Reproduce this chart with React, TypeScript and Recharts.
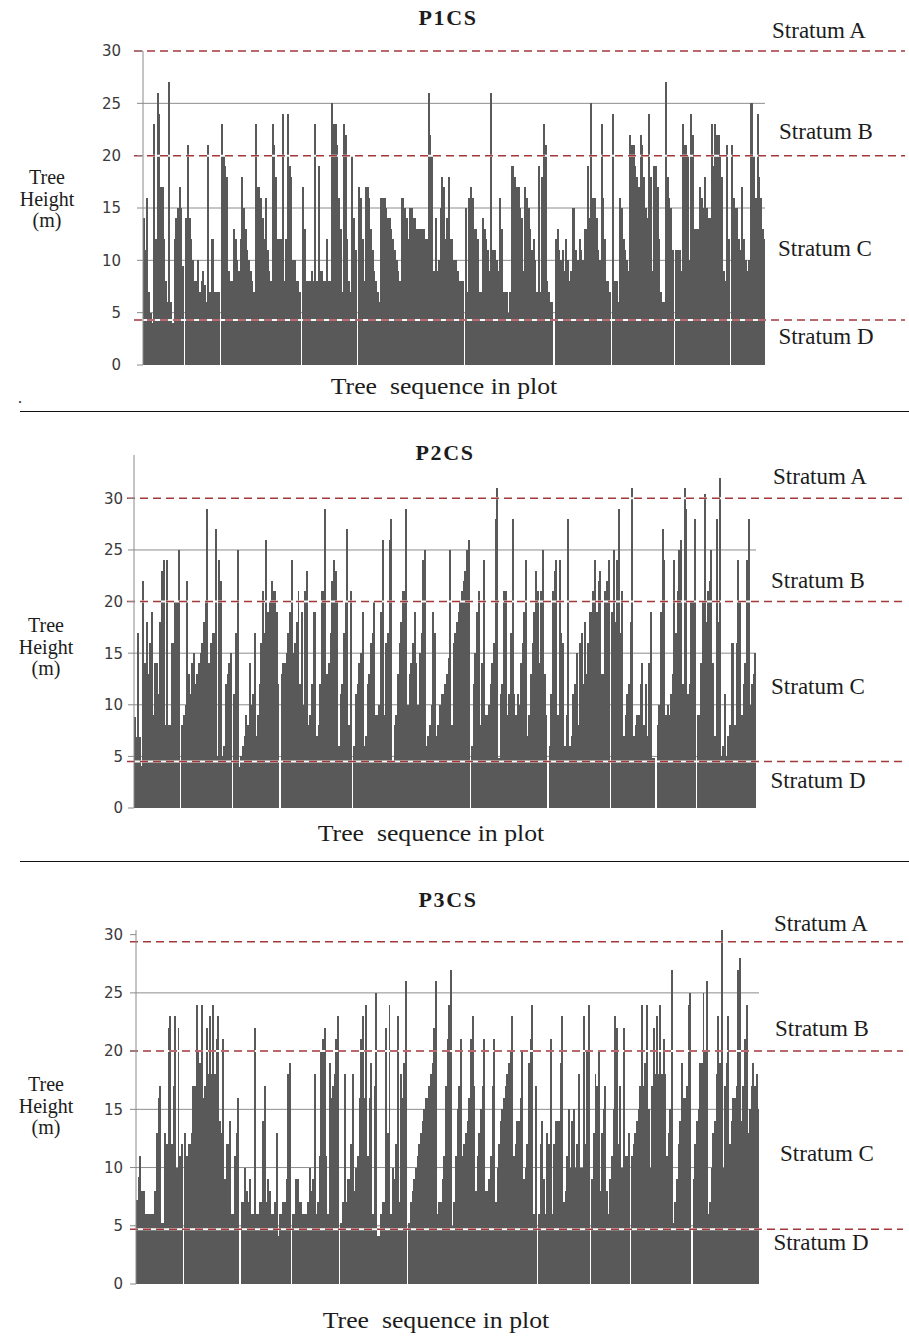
import React from 'react';
import { BarChart, Bar, XAxis, YAxis, ReferenceLine, CartesianGrid } from 'recharts';

// ---------- data ----------
const P1_HEIGHTS = [
  14, 11, 16, 7, 5, 4, 23, 12, 26, 24, 17, 17, 12, 8, 6, 27, 6, 4, 12, 14, 15, 17, 15, 9.5, 0, 14, 21, 14, 12, 10,
  8, 8, 10, 7, 8, 9, 7.6, 6, 21, 7, 12, 12, 7, 7, 7, 0, 23, 20, 19, 18, 9, 8, 8, 13, 12, 10, 9, 12, 18, 15,
  13, 11, 10, 9, 8, 7, 23, 17, 17, 16, 14, 12, 16, 11, 9, 8, 23, 21, 18, 12, 12, 12, 24, 8, 12, 24, 19, 18, 10, 10, 8,
  8, 7, 0, 17, 13, 8, 8, 8, 9, 8, 23, 8, 19, 9, 9, 8, 8, 12, 8, 8, 25, 23, 23, 21, 16, 13, 7, 23, 22, 12,
  8, 7, 20, 14, 11, 0, 17, 16, 12, 8, 17, 17, 16, 13, 11, 9, 8, 7, 6, 16, 16, 16, 15, 14, 14, 13, 12, 11, 10, 9,
  8, 16, 16, 15, 14, 12, 15, 15, 14, 14, 13, 13, 13, 13, 13, 12, 12, 26, 22, 20, 9, 14, 9, 10, 15, 18, 17, 12,
  14, 18, 12, 12, 10, 10, 9, 8, 8, 8, 0, 15, 7, 16, 17, 16, 13, 13, 12, 7, 7, 14, 13, 12, 11, 9, 26, 11, 11, 10,
  9, 16, 13, 7, 7, 7, 5, 7, 19, 19, 18, 17, 17, 15, 14, 9, 17, 16, 15, 13, 11, 12, 10, 7, 19, 7, 18, 23, 21, 8,
  7, 6, 6, 0, 12, 13, 11, 10, 11, 9, 12, 10, 8, 9, 15, 15, 11, 10, 12, 11, 10, 13, 13, 19, 14, 25, 16, 16, 14, 11, 10, 23,
  16, 12, 8, 8, 7, 0, 24, 8, 8, 6, 16, 15, 12, 11, 10, 9, 22, 21, 21, 19, 18, 17, 22, 21, 18, 15, 14, 24, 18, 9,
  19, 19, 17, 12, 7, 6, 6, 27, 18, 16, 15, 11, 0, 11, 11, 11, 9, 23, 21, 21, 20, 10, 24, 22, 13, 13, 13, 17, 16, 15,
  18, 15, 14, 14, 23, 19, 23, 22, 22, 20, 18, 9, 8, 21, 12, 0, 21, 16, 15, 15, 12, 11, 17, 12, 10, 9, 10, 25, 25, 20,
  16, 24, 18, 16, 13, 12,
];

const P2_HEIGHTS = [
  8.8, 6.9, 17, 6.9, 4.1, 22, 14, 18, 13, 16, 19, 9, 14, 14, 11, 18, 23, 24, 8, 24, 8, 8, 16, 16, 20, 20, 25, 0, 8, 9,
  10, 22, 13, 11, 14, 15, 12, 13, 14, 15, 16, 18, 20, 29, 14, 16, 17, 17, 27, 5, 24, 22, 5, 6, 12, 13, 14, 15, 0, 11,
  17, 25, 4, 5, 6, 7, 9, 8, 14, 10, 11, 17, 7, 9, 12, 16, 21, 17, 26, 19, 20, 22, 21, 21, 19, 12, 0, 13, 14, 14,
  15, 17, 19, 24, 15, 16, 18, 21, 12, 19, 10, 21, 23, 8, 9, 12, 19, 19, 7, 8, 12, 21, 21, 29, 13, 14, 17, 22, 24, 23,
  20, 6, 11, 12,
  17, 20, 27, 8, 21, 0, 6, 11, 12, 14, 15, 19, 6, 7, 12, 13, 16, 17, 20, 9, 9, 10, 19, 26, 9, 16, 17, 26, 28, 4.6,
  8, 9, 13, 16, 18, 21, 21, 29, 10, 13, 14, 16, 19, 14, 10, 15, 17, 24, 25, 6, 7, 8, 10, 19, 17, 7, 8, 10, 11, 11,
  12, 13, 14.5, 25, 8, 16, 17, 18, 19, 20, 21, 22, 23, 25, 26, 0, 6, 12, 15, 19, 21, 8, 14, 24, 9, 9, 10, 12, 14, 16,
  28, 31, 4.8, 11, 12, 21, 21, 9, 11, 17, 28, 11, 9, 11, 10, 14, 16, 19, 24, 7, 9, 13, 16, 19, 23, 21, 14, 21, 25, 13,
  9, 0, 6, 11,
  21, 23, 24, 9, 24, 17, 16, 6, 9, 28, 6, 7, 11, 12, 15, 8, 16, 17, 12, 18, 13, 16, 19, 19, 21, 24, 19, 22, 23, 13,
  13, 21, 22, 24, 0, 19, 25, 18, 24, 29, 17, 21, 7, 9, 11, 12, 18, 31, 7, 8, 9, 9, 12, 14, 8, 12, 7, 14, 19, 4.8,
  4.8, 0, 8, 10, 19, 27, 24, 9, 10, 9, 11, 13, 24, 17, 21, 25, 26, 12, 31, 29, 11, 12, 20, 20, 28, 0, 9, 9, 14, 20,
  30.4, 18, 21, 22, 25, 14, 7, 28, 18, 32, 5, 6, 11, 5, 7, 8, 16, 16, 8, 16, 24, 20, 9, 12, 14, 24, 28, 10, 12, 13, 15,
];

const P3_HEIGHTS = [
  7.2, 9.2, 11, 8, 8, 6, 6, 6, 6, 6, 6, 8, 13, 16, 17, 5.2, 5.2, 13, 12, 22, 23, 12, 17, 23, 10, 22, 11, 12, 0, 13,
  11, 12, 12, 13, 17, 17, 24, 20, 19, 24, 16, 17, 22, 18, 23, 18, 24, 18, 21, 23, 14, 13, 21, 9, 12, 12, 14, 6, 6, 11,
  13, 16, 0, 7, 7, 10, 8, 7, 9, 6, 6, 22, 6, 6, 7, 7, 14, 17, 7, 9, 8, 6, 6, 7, 13, 4.1, 6, 6, 7, 7,
  9, 18, 19, 0, 6, 6, 9, 9, 7, 7, 6, 6, 6, 7, 10, 8, 9, 18, 6, 7, 11, 20, 21, 22, 11, 6, 19, 16, 17, 18,
  21, 23, 0, 5.2, 7,
  18, 7, 9, 9, 12, 18, 8, 10, 11, 16, 21, 23, 16, 24, 11, 16, 19, 6, 17, 25, 4.1, 4.1, 6, 7, 7, 22, 13, 24, 6, 10,
  9, 12, 23, 7, 18, 16, 19, 26, 0, 5.2, 7, 8, 9, 10, 11, 12, 13, 14, 15, 16, 16, 17, 18, 19, 22, 26, 6, 7, 7, 9,
  11, 17, 21, 24, 27, 5, 7, 11, 15, 17, 21, 11, 12, 13, 14, 16, 21, 23, 17, 8, 11, 13, 15, 17, 21, 8, 8, 9, 11, 17,
  21, 7, 10, 12, 14, 15, 16, 17, 18, 19, 20, 23, 11, 12, 14, 14, 16, 20, 9, 10, 12, 19, 21, 24, 6, 17, 0, 6, 12, 14,
  9, 6, 13, 12, 21, 6, 12,
  14, 14, 14, 19, 23, 7, 8, 11, 15, 10, 14, 15, 10, 12, 18, 10, 10, 23, 12, 20, 24, 0, 9, 13, 18, 17, 20, 8, 13, 15,
  17, 8, 6, 9, 11, 15, 23, 22, 12, 17, 10, 22, 11, 11, 13, 0, 11, 12, 13, 14, 15, 17, 24, 17, 19, 24, 15, 10, 17, 22,
  18, 23, 18, 24, 18, 21, 18, 11, 13, 15, 27, 5.2, 7, 9, 12, 14, 19, 16, 16, 17, 24, 25, 0, 9, 12, 14, 15, 19, 19, 25,
  20, 26, 6, 7, 10, 13, 14, 18, 23, 19, 30.4, 10, 17, 19, 23, 12, 14, 16, 16, 17, 27, 28, 14, 17, 21, 24, 13, 15, 17, 19,
  17, 18, 15,
];

const Y_TICKS = [0, 5, 10, 15, 20, 25, 30];
const GRID_LEVELS = [5, 10, 15, 20, 25];
const P1_STRATA = [30, 20, 4.3];
const P2_STRATA = [30, 20, 4.5];
const P3_STRATA = [29.4, 20, 4.7];
const STRATUM_LABELS = ['Stratum A', 'Stratum B', 'Stratum C', 'Stratum D'];
const TITLES = ['P1CS', 'P2CS', 'P3CS'];
const X_LABEL = 'Tree  sequence in plot';
const Y_LABEL_LINES = ['Tree', 'Height', '(m)'];

// ---------- styles / layout ----------
const BAR_COLOR = '#595959';
const GRID_COLOR = '#8c8c8c';
const RED = '#a3393b';
const SERIF = '"Liberation Serif", "Times New Roman", serif';
const YW = 60;

type Cfg = {
  top: number; height: number; plotTop: number; plotBottom: number; plotLeft: number; plotRight: number;
  yMax: number; tickMargin: number; redLeft: number; redRight: number;
  title: [number, number]; yLabel: [number, number]; xLabel: [number, number]; strata: [number, number][];
};

const PANELS: Cfg[] = [
  {
    top: 0, height: 380, plotTop: 51, plotBottom: 365, plotLeft: 143, plotRight: 765, yMax: 30, tickMargin: 16,
    redLeft: 9, redRight: 905, title: [448, 18], yLabel: [47, 199], xLabel: [444, 386],
    strata: [[819, 30], [826, 131], [825, 248], [826, 336]],
  },
  {
    top: 440, height: 380, plotTop: 455, plotBottom: 808, plotLeft: 134, plotRight: 756, yMax: 34.2, tickMargin: 5,
    redLeft: 7, redRight: 905, title: [445, 453], yLabel: [46, 647], xLabel: [431, 833],
    strata: [[820, 476], [818, 580], [818, 686], [818, 780]],
  },
  {
    top: 915, height: 385, plotTop: 930, plotBottom: 1284, plotLeft: 136, plotRight: 759, yMax: 30.4, tickMargin: 7,
    redLeft: 6, redRight: 903, title: [448, 900], yLabel: [46, 1106], xLabel: [436, 1320],
    strata: [[821, 923], [822, 1028], [827, 1153], [821, 1242]],
  },
];

function Txt(props: {
  x: number; y: number; children: React.ReactNode; size: number; bold?: boolean; scaleX?: number;
  family?: string; color?: string; spacing?: number;
}) {
  const { x, y, children, size, bold, scaleX = 1, family = SERIF, color = '#1c1c1c', spacing = 0 } = props;
  return (
    <div
      style={{
        position: 'absolute', left: x, top: y,
        transform: `translate(-50%, -50%) scaleX(${scaleX})`,
        fontFamily: family, fontSize: size, fontWeight: bold ? 700 : 400, whiteSpace: 'pre',
        lineHeight: 1, color, letterSpacing: spacing,
      }}
    >
      {children}
    </div>
  );
}

function Panel({ cfg, heights, strata, title }: { cfg: Cfg; heights: number[]; strata: number[]; title: string }) {
  const data = heights.map((v, i) => ({ i: i + 1, v }));
  const band = (cfg.plotRight - cfg.plotLeft) / data.length;
  const barShape = (p: any) =>
    p.height > 0 ? (
      <rect x={p.x} y={p.y} width={band + 0.3} height={p.height} fill={BAR_COLOR} shapeRendering="crispEdges" />
    ) : (
      <g />
    );
  const redShape = (p: any) => (
    <g>
      <line x1={p.x1} x2={p.x2} y1={p.y1} y2={p.y2} stroke="#ffffff" strokeWidth={2} />
      <line
        x1={p.x1 - cfg.redLeft} x2={cfg.redRight} y1={p.y1} y2={p.y2}
        stroke={RED} strokeWidth={1.5} strokeDasharray="8 5"
      />
    </g>
  );
  return (
    <>
      <div style={{ position: 'absolute', left: 0, top: cfg.top }}>
        <BarChart
          width={909}
          height={cfg.height}
          data={data}
          barCategoryGap={0}
          barGap={0}
          margin={{
            top: cfg.plotTop - cfg.top,
            bottom: cfg.top + cfg.height - cfg.plotBottom,
            left: cfg.plotLeft - YW,
            right: 909 - cfg.plotRight,
          }}
        >
          <XAxis dataKey="i" hide />
          <YAxis
            width={YW}
            domain={[0, cfg.yMax]}
            ticks={Y_TICKS}
            interval={0}
            allowDataOverflow
            axisLine={{ stroke: '#8a8a8a', strokeWidth: 1 }}
            tickLine={{ stroke: '#8a8a8a', strokeWidth: 1 }}
            tickSize={6}
            tickMargin={cfg.tickMargin}
            tick={{ fontSize: 15, fill: '#3a3a3a', fontFamily: '"DejaVu Sans", sans-serif' }}
          />
          <CartesianGrid vertical={false} stroke={GRID_COLOR} strokeWidth={1} horizontalValues={GRID_LEVELS} />
          <Bar dataKey="v" isAnimationActive={false} shape={barShape} />
          {strata.map((s) => (
            <ReferenceLine key={'s' + s} y={s} ifOverflow="visible" shape={redShape} />
          ))}
        </BarChart>
      </div>
      <Txt x={cfg.title[0]} y={cfg.title[1]} size={20} bold spacing={1.5} scaleX={1.1}>
        {title}
      </Txt>
      <div
        style={{
          position: 'absolute', left: cfg.yLabel[0], top: cfg.yLabel[1], transform: 'translate(-50%, -50%)',
          textAlign: 'center', fontFamily: SERIF, fontSize: 20, lineHeight: '21.5px', color: '#1c1c1c',
          whiteSpace: 'nowrap',
        }}
      >
        {Y_LABEL_LINES.map((l) => (
          <div key={l}>{l}</div>
        ))}
      </div>
      <Txt x={cfg.xLabel[0]} y={cfg.xLabel[1]} size={23} scaleX={1.12}>
        {X_LABEL}
      </Txt>
      {STRATUM_LABELS.map((s, k) => (
        <Txt key={s} x={cfg.strata[k][0]} y={cfg.strata[k][1]} size={23}>
          {s}
        </Txt>
      ))}
    </>
  );
}

export default function App() {
  return (
    <div style={{ position: 'relative', width: 909, height: 1340, background: '#ffffff', overflow: 'hidden' }}>
      <style>{'body{margin:0}'}</style>
      <Panel cfg={PANELS[0]} heights={P1_HEIGHTS} strata={P1_STRATA} title={TITLES[0]} />
      <Panel cfg={PANELS[1]} heights={P2_HEIGHTS} strata={P2_STRATA} title={TITLES[1]} />
      <Panel cfg={PANELS[2]} heights={P3_HEIGHTS} strata={P3_STRATA} title={TITLES[2]} />
      <div style={{ position: 'absolute', left: 20, top: 410.5, width: 889, height: 1.5, background: '#111' }} />
      <div style={{ position: 'absolute', left: 20, top: 860.5, width: 889, height: 1.5, background: '#111' }} />
      <Txt x={20} y={398} size={16}>.</Txt>
    </div>
  );
}
